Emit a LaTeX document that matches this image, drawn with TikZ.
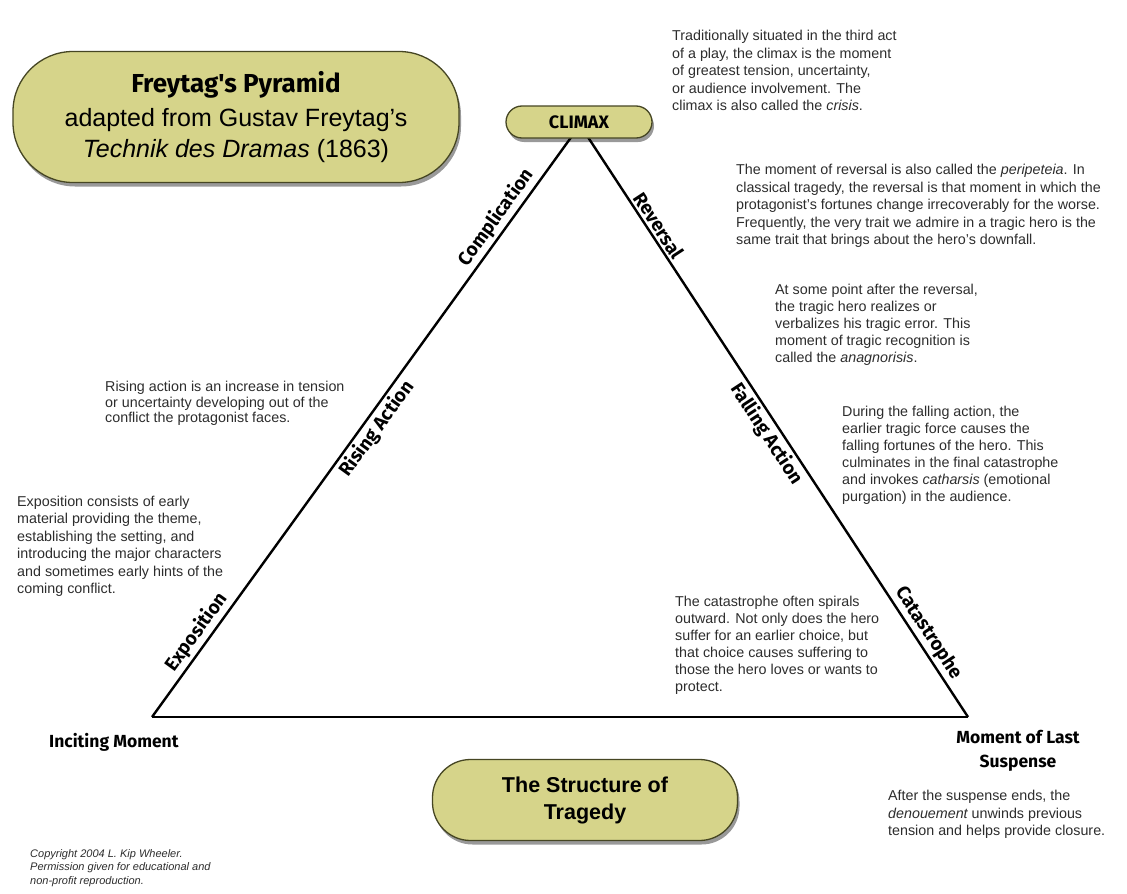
\documentclass[tikz,border=0pt]{standalone}
\usepackage{fontspec}
\setmainfont{Liberation Sans}
\newfontfamily\rndfont{Fira Sans}
\usetikzlibrary{shadows}
\definecolor{boxfill}{RGB}{214,212,138}
\definecolor{boxline}{RGB}{70,70,35}
\definecolor{txtgray}{RGB}{45,45,45}
\begin{document}
\begin{tikzpicture}[x=1pt,y=-1pt,
  pill/.style={draw=boxline, line width=1.3pt, fill=boxfill, rounded corners=#1,
    drop shadow={shadow xshift=2pt, shadow yshift=-4pt, opacity=0.4, fill=black}},
  desc/.style={anchor=north west, inner sep=0pt, align=left, text=txtgray,
    font=\fontsize{14.3}{17.5}\selectfont},
  tri/.style={line width=2.4pt, line join=miter},
  sidefont/.style={inner sep=2.5pt, font=\rndfont\bfseries\fontsize{19}{19}\selectfont},
  side/.style={sloped, above, sidefont},
  sidein/.style={sloped, below, sidefont},
  lab/.style={inner sep=0pt, font=\rndfont\bfseries\fontsize{17.5}{24}\selectfont}]
\useasboundingbox (0,0) rectangle (1127,894);
\fill[white] (0,0) rectangle (1127,894);

% triangle
\coordinate (inc) at (152,717);
\coordinate (apex) at (580,125);
\coordinate (mls) at (968,717);
\draw[tri] (inc) -- (apex)
  node[side, pos=0.13] (lexp) {Exposition}
  node[sidein, pos=0.50] (lris) {Rising Action}
  node[side, pos=0.83] (lcom) {Complication};
\draw[tri] (apex) -- (mls)
  node[side, pos=0.18] (lrev) {Reversal}
  node[sidein, pos=0.51] (lfal) {Falling Action}
  node[side, pos=0.87] (lcat) {Catastrophe};
\draw[tri] (mls) -- (inc);

% boxes
\node[pill=16pt, minimum width=146pt, minimum height=32pt, inner sep=0pt,
  font=\rndfont\bfseries\fontsize{18}{18}\selectfont] (climax) at (579,122) {CLIMAX};
\node[pill=60pt, minimum width=446pt, minimum height=131pt, align=center,
  font=\fontsize{25}{31}\selectfont] (title) at (236,117)
  {{\rndfont\bfseries\fontsize{26}{31}\selectfont Freytag's Pyramid}\\[3pt]
   adapted from Gustav Freytag's\\
   {\itshape Technik des Dramas} (1863)};
\node[pill=38pt, minimum width=305pt, minimum height=81pt, align=center,
  font=\bfseries\fontsize{21.5}{27}\selectfont] (struct) at (585,800)
  {The Structure of\\Tragedy};

% corner labels
\node[lab, anchor=west] (inct) at (49,742) {Inciting Moment};
\node[lab, align=center] (mlst) at (1018,751) {Moment of Last\\Suspense};

% descriptions
\node[desc] (dclimax) at (672,30) {Traditionally situated in the third act\\
of a play, the climax is the moment\\
of greatest tension, uncertainty,\\
or audience involvement. The\\
climax is also called the {\itshape crisis}.};

\node[desc] (drev) at (736,164) {The moment of reversal is also called the {\itshape peripeteia}. In\\
classical tragedy, the reversal is that moment in which the\\
protagonist's fortunes change irrecoverably for the worse.\\
Frequently, the very trait we admire in a tragic hero is the\\
same trait that brings about the hero's downfall.};

\node[desc, font=\fontsize{14.3}{17}\selectfont] (dana) at (775,284) {At some point after the reversal,\\
the tragic hero realizes or\\
verbalizes his tragic error. This\\
moment of tragic recognition is\\
called the {\itshape anagnorisis}.};

\node[desc, font=\fontsize{14.3}{17}\selectfont] (dfal) at (842,406) {During the falling action, the\\
earlier tragic force causes the\\
falling fortunes of the hero. This\\
culminates in the final catastrophe\\
and invokes {\itshape catharsis} (emotional\\
purgation) in the audience.};

\node[desc, font=\fontsize{14.3}{15.5}\selectfont] (dris) at (105,381) {Rising action is an increase in tension\\
or uncertainty developing out of the\\
conflict the protagonist faces.};

\node[desc, font=\fontsize{14.3}{17.4}\selectfont] (dexp) at (17,496) {Exposition consists of early\\
material providing the theme,\\
establishing the setting, and\\
introducing the major characters\\
and sometimes early hints of the\\
coming conflict.};

\node[desc, font=\fontsize{14.3}{17}\selectfont] (dcat) at (675,596) {The catastrophe often spirals\\
outward. Not only does the hero\\
suffer for an earlier choice, but\\
that choice causes suffering to\\
those the hero loves or wants to\\
protect.};

\node[desc] (dsus) at (888,790) {After the suspense ends, the\\
{\itshape denouement} unwinds previous\\
tension and helps provide closure.};

\node[desc, font=\itshape\fontsize{11}{13.5}\selectfont] (dcopy) at (30,849) {Copyright 2004 L. Kip Wheeler.\\
Permission given for educational and\\
non-profit reproduction.};
\end{tikzpicture}
\end{document}
